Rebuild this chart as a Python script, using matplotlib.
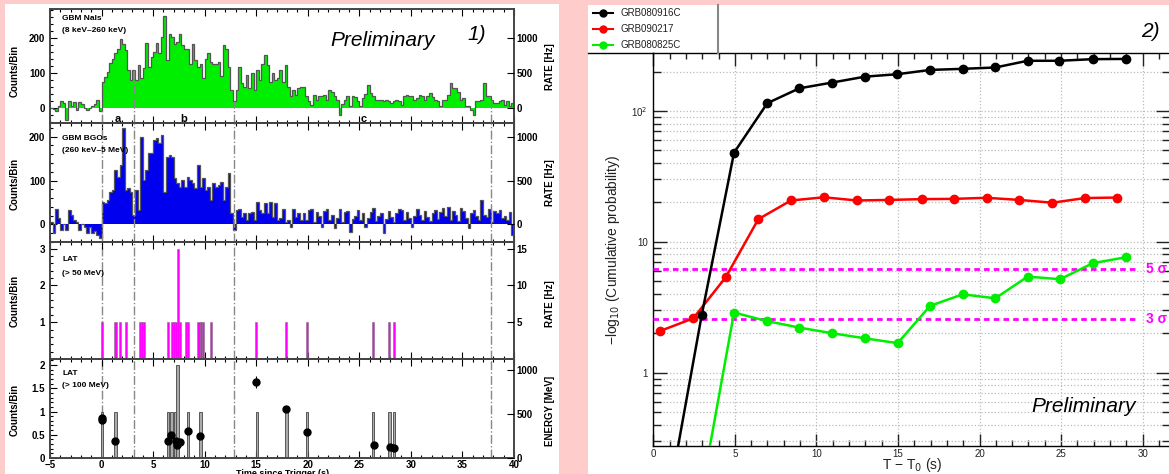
import numpy as np
import matplotlib
matplotlib.use('Agg')
import matplotlib.pyplot as plt
from matplotlib.patches import Rectangle
from matplotlib.lines import Line2D
from matplotlib.ticker import MultipleLocator, FixedLocator, FixedFormatter, NullFormatter, LogLocator

plt.rcParams['font.family'] = ['Liberation Sans', 'DejaVu Sans']

W, H = 1169, 474

# ------------------------------------------------------------------ data
gbm_t_start = -5.0
gbm_bin = 0.25

nai_pre = [0, -3, -8, 5, 20, 15, -33, 19, 5, 17, -5, 17, 10, 0, -5, 0, 5, 10, 24, -10]
nai_main = [73, 88, 104, 129, 141, 156, 170, 198, 184, 165,
            108, 80, 108, 80, 123, 85, 113, 186, 118, 146,
            160, 186, 156, 203, 264, 137, 212, 203, 184, 189,
            212, 179, 170, 170, 127, 184, 137, 118, 127, 85,
            141, 156, 132, 127, 127, 132, 90, 179, 170, 118,
            52, 19, 52, 118, 71, 61, 94, 57, 99, 52,
            108, 80, 127, 151, 123, 75, 99, 80, 85, 108,
            75, 123, 61, 33, 52, 38, 57, 59]
nai_tail = [61, 33, 20, 9, 38, 24, 33, 33, 38, 24,
            52, 45, 33, 24, -19, 10, 24, 33, 5, 33,
            30, 19, 5, 28, 40, 66, 42, 33, 24, 24,
            24, 19, 24, 20, 14, 19, 24, 20, 9, 33,
            38, 33, 33, 24, 28, 38, 35, 24, 33, 42,
            30, 24, 19, 5, 24, 24, 38, 71, 57, 57,
            47, 24, 28, 5, 5, -5, -19, 19, 19, 24,
            71, 33, 33, 24, 14, 14, 19, 24, 9, 19,
            5, 14]

bgo_pre = [5, -20, 36, 14, -13, 0, -13, 33, 21, 10, 6, -13, 0, -5, -20, -5, -20, -15, -25, -32]
bgo_main = [52, 48, 56, 75, 78, 124, 109, 135, 219, 78,
            82, 75, 21, 78, 33, 198, 101, 124, 162, 162,
            193, 196, 185, 204, 75, 154, 158, 154, 105, 94,
            86, 101, 86, 109, 101, 94, 82, 135, 86, 105,
            78, 86, 56, 94, 86, 90, 97, 56, 86, 116,
            25, -13, 33, 36, 17, 25, 10, 25, 29, 10,
            52, 33, 25, 48, 25, 52, 17, 48, 10, 14,
            36, 6, 10, -5, 36, 17, 25, 10]
bgo_tail = [25, 10, 33, 36, 5, 28, 20, -5, 30, 35, 10, 22, -8, 15, 36, 5, 28, 30, -17, 12,
            20, 33, 10, 25, -5, 15, 28, 38, 8, 20, 25, -20, 12, 30, 18, 5, 25, 36, 33, 10,
            28, 15, -5, 20, 36, 22, 10, 30, 18, 8, 25, 33, 12, 28, 38, 20, 40, 10, 30, 22,
            8, 38, 30, 15, -8, 25, 33, 20, 10, 56, 22, 18, 36, 5, 30, 25, 33, 15, 20, 10, 28, -24]

lat50_t = [-0.1, 1.25, 1.65, 2.3, 3.65, 3.85, 4.05, 6.3, 6.7, 6.9, 7.1, 7.3, 7.5,
           8.1, 8.3, 9.3, 9.5, 9.7, 10.5, 14.9, 17.8, 19.8, 26.2, 27.8, 28.25]
lat50_n = [1, 1, 1, 1, 1, 1, 1, 1, 1, 1, 1, 3, 1, 1, 1, 1, 1, 1, 1, 1, 1, 1, 1, 1, 1]

lat100_t = [-0.1, 1.25, 6.3, 6.65, 7.05, 7.25, 8.25, 9.45, 14.95, 17.8, 19.8, 26.2, 27.8, 28.25]
lat100_n = [1, 1, 1, 1, 1, 2, 1, 1, 1, 1, 1, 1, 1, 1]

evt_t = [0.0, 0.05, 1.35, 6.43, 6.75, 7.24, 7.3, 7.56, 8.37, 9.54, 15.0, 17.86, 19.94, 26.4, 27.97, 28.4]
evt_E = [453, 430, 188, 199, 264, 199, 151, 177, 310, 252, 868, 559, 301, 151, 125, 117]
evt_Eerr = [15, 15, 10, 10, 12, 10, 10, 10, 12, 12, 70, 25, 15, 10, 10, 10]

interval_lines = [0.0, 3.1, 12.8, 37.8]
interval_labels = ['a', 'b', 'c']
interval_label_t = [1.6, 8.0, 25.4]

grb1_x = [1, 2.97, 4.95, 6.99, 8.95, 10.97, 12.98, 14.96, 16.97, 18.97, 20.97, 22.95, 24.9, 26.94, 28.96]
grb1_y = [0.12, 2.76, 48, 114.7, 149, 165, 183, 191, 206, 210, 215, 242, 242, 249, 250]
grb2_x = [0.41, 2.45, 4.44, 6.44, 8.44, 10.47, 12.47, 14.47, 16.46, 18.46, 20.44, 22.44, 24.47, 26.46, 28.46]
grb2_y = [2.08, 2.6, 5.36, 14.9, 20.7, 21.9, 20.7, 20.9, 21.2, 21.3, 21.7, 20.9, 19.9, 21.6, 21.8]
grb3_x = [3.0, 4.95, 6.95, 8.95, 10.97, 12.98, 14.98, 16.97, 18.97, 20.97, 22.95, 24.94, 26.94, 28.96]
grb3_y = [0.13, 2.88, 2.48, 2.21, 2.0, 1.83, 1.68, 3.24, 3.97, 3.7, 5.42, 5.18, 6.86, 7.62]
grb_names = ['GRB080916C', 'GRB090217', 'GRB080825C']
sigma_levels = [6.24, 2.56]
sigma_labels = ['5 σ', '3 σ']

# ------------------------------------------------------------------ helpers
fig = plt.figure(figsize=(W / 100, H / 100), dpi=100)
fig.patch.set_facecolor('#ffcccc')


def px_axes(x0, y0, x1, y1, **kw):
    return fig.add_axes([x0 / W, 1 - y1 / H, (x1 - x0) / W, (y1 - y0) / H], **kw)


def fx(x):
    return x / W


def fy(y):
    return 1 - y / H


fig.patches.append(Rectangle((fx(5), fy(474)), (559 - 5) / W, (474 - 4) / H,
                             transform=fig.transFigure, facecolor='white', edgecolor='none', zorder=-10))
fig.patches.append(Rectangle((fx(588), fy(474)), (1169 - 588) / W, (474 - 5) / H,
                             transform=fig.transFigure, facecolor='white', edgecolor='none', zorder=-10))

# ------------------------------------------------------------------ left panels
nai = np.array(nai_pre + nai_main + nai_tail, dtype=float)
bgo = np.array(bgo_pre + bgo_main + bgo_tail, dtype=float)
edges = gbm_t_start + gbm_bin * np.arange(len(nai) + 1)

XL, XR = 50, 514
panels = [(9, 123), (123, 242), (242, 359), (359, 458)]
spine_c = '#444444'


def style_left(ax, show_x):
    ax.set_xlim(-5, 40)
    ax.xaxis.set_major_locator(MultipleLocator(5))
    ax.xaxis.set_minor_locator(MultipleLocator(1))
    ax.tick_params(which='both', direction='in', top=True, right=False, colors='black',
                   labelsize=7, width=0.8)
    ax.tick_params(which='major', length=5)
    ax.tick_params(which='minor', length=2.5)
    ax.tick_params(axis='x', pad=1.5)
    for s in ax.spines.values():
        s.set_color(spine_c)
        s.set_linewidth(1.4)
    for lab in ax.get_yticklabels():
        lab.set_fontweight('bold')
    if not show_x:
        ax.set_xticklabels([])
    else:
        ax.set_xticks([-5, 0, 5, 10, 15, 20, 25, 30, 35, 40])
        ax.set_xticklabels(['−5', '0', '5', '10', '15', '20', '25', '30', '35', '40'], fontweight='bold')
    ax.set_facecolor('none')


def twin_right(ax, factor, ticks):
    a2 = ax.twinx()
    lo, hi = ax.get_ylim()
    a2.set_ylim(lo * factor, hi * factor)
    a2.yaxis.set_major_locator(FixedLocator(ticks))
    a2.tick_params(which='both', direction='in', labelsize=7, length=5, width=0.8, pad=2)
    for lab in a2.get_yticklabels():
        lab.set_fontweight('bold')
    for s in a2.spines.values():
        s.set_visible(False)
    return a2


def counts_label(y):
    fig.text(fx(15), fy(y), 'Counts/Bin', rotation=90, ha='center', va='center', fontsize=7, fontweight='bold')


def rate_label(y, text='RATE [Hz]'):
    fig.text(fx(550), fy(y), text, rotation=90, ha='center', va='center', fontsize=7, fontweight='bold')


# Panel 1: NaI
ax1 = px_axes(XL, panels[0][0], XR, panels[0][1])
ax1.stairs(nai, edges, baseline=0, fill=True, color='#00ee00', zorder=1)
ax1.stairs(nai, edges, baseline=None, color='#555555', lw=0.9, zorder=2)
ax1.set_ylim(-43, 283)
ax1.yaxis.set_major_locator(FixedLocator([0, 100, 200]))
ax1.yaxis.set_minor_locator(MultipleLocator(20))
style_left(ax1, False)
for t in interval_lines:
    idx = min(int((t - 0.01 - gbm_t_start) / gbm_bin), len(nai) - 1)
    ax1.vlines(t, -43, max(nai[idx], 0), colors='#888888', linestyles='-.', lw=1, zorder=3)
for lab, t in zip(interval_labels, interval_label_t):
    ax1.text(t, -31, lab, ha='center', va='center', fontsize=8, fontweight='bold')
ax1.text(-3.8, 255, 'GBM NaIs', fontsize=6, fontweight='bold', va='center')
ax1.text(-3.8, 222, '(8 keV–260 keV)', fontsize=6, fontweight='bold', va='center')
twin_right(ax1, 5.0, [0, 500, 1000])
counts_label(71)
rate_label(67)

# Panel 2: BGO
ax2 = px_axes(XL, panels[1][0], XR, panels[1][1])
ax2.stairs(bgo, edges, baseline=0, fill=True, color='#0000ee', zorder=1)
ax2.stairs(bgo, edges, baseline=None, color='#555555', lw=0.9, zorder=2)
ax2.set_ylim(-40, 231)
ax2.yaxis.set_major_locator(FixedLocator([0, 100, 200]))
ax2.yaxis.set_minor_locator(MultipleLocator(20))
style_left(ax2, False)
for t in interval_lines:
    ax2.axvline(t, color='#888888', ls='-.', lw=1, zorder=3)
ax2.text(-3.8, 196, 'GBM BGOs', fontsize=6, fontweight='bold', va='center')
ax2.text(-3.8, 169, '(260 keV–5 MeV)', fontsize=6, fontweight='bold', va='center')
twin_right(ax2, 5.0, [0, 500, 1000])
counts_label(184)
rate_label(183)

# Panel 3: LAT > 50 MeV
ax3 = px_axes(XL, panels[2][0], XR, panels[2][1])
ax3.bar(lat50_t, lat50_n, width=0.2, align='edge', color='#ff00ff', edgecolor='#777777', lw=0.4, zorder=2)
ax3.set_ylim(0, 3.18)
ax3.yaxis.set_major_locator(FixedLocator([1, 2, 3]))
ax3.yaxis.set_minor_locator(MultipleLocator(0.2))
style_left(ax3, False)
for t in interval_lines:
    ax3.axvline(t, color='#888888', ls='-.', lw=1, zorder=1)
ax3.text(-3.8, 2.7, 'LAT', fontsize=6, fontweight='bold', va='center')
ax3.text(-3.8, 2.32, '(> 50 MeV)', fontsize=6, fontweight='bold', va='center')
twin_right(ax3, 5.0, [5, 10, 15])
counts_label(301)
rate_label(304)

# Panel 4: LAT > 100 MeV
ax4 = px_axes(XL, panels[3][0], XR, panels[3][1])
ax4.bar(lat100_t, lat100_n, width=0.25, align='edge', color='#aaaaaa', edgecolor='#444444', lw=0.6, zorder=2)
ax4.set_ylim(0, 2.13)
ax4.yaxis.set_major_locator(FixedLocator([0, 0.5, 1, 1.5, 2]))
ax4.yaxis.set_major_formatter(FixedFormatter(['0', '0.5', '1', '1.5', '2']))
ax4.yaxis.set_minor_locator(MultipleLocator(0.1))
style_left(ax4, True)
for t in interval_lines:
    ax4.axvline(t, color='#888888', ls='-.', lw=1, zorder=1)
ax4.text(-3.8, 1.81, 'LAT', fontsize=6, fontweight='bold', va='center')
ax4.text(-3.8, 1.55, '(> 100 MeV)', fontsize=6, fontweight='bold', va='center')
a4r = twin_right(ax4, 529.0, [0, 500, 1000])
a4r.errorbar(evt_t, evt_E, yerr=evt_Eerr, fmt='o', color='black', ms=5, elinewidth=0.8, capsize=0, zorder=4)
counts_label(410)
rate_label(411, 'ENERGY [MeV]')
fig.text(fx(283), fy(469), 'Time since Trigger (s)', ha='center', va='top', fontsize=6.5, fontweight='bold')

fig.text(fx(330), fy(46), 'Preliminary', fontsize=15, style='italic', ha='left', va='baseline')
fig.text(fx(467), fy(40), '1)', fontsize=15, style='italic', ha='left', va='baseline')

# ------------------------------------------------------------------ right panel
RX0, RX1, RY0, RY1 = 653.3, 1170, 53.3, 446
axr = px_axes(RX0, RY0, RX1, RY1)
axr.set_facecolor('none')
axr.set_yscale('log')
axr.set_xlim(0, (RX1 - RX0) / 16.31)
axr.set_ylim(0.275, 276)
axr.xaxis.set_major_locator(FixedLocator([0, 5, 10, 15, 20, 25, 30]))
axr.xaxis.set_minor_locator(MultipleLocator(1))
axr.yaxis.set_major_locator(FixedLocator([1, 10, 100]))
axr.yaxis.set_major_formatter(FixedFormatter(['1', '10', '10$^2$']))
axr.yaxis.set_minor_locator(LogLocator(base=10, subs=np.arange(2, 10)))
axr.yaxis.set_minor_formatter(NullFormatter())
axr.tick_params(which='both', direction='in', top=True, right=True, labelsize=7, colors='#222222', width=1)
axr.tick_params(axis='y', which='major', length=10, pad=4)
axr.tick_params(axis='y', which='minor', length=6)
axr.tick_params(axis='x', which='major', length=9, pad=2)
axr.tick_params(axis='x', which='minor', length=4.5)
for s in axr.spines.values():
    s.set_color('black')
    s.set_linewidth(1)
axr.grid(True, which='major', axis='x', ls=':', color='#bbbbbb', lw=0.9)
axr.grid(True, which='both', axis='y', ls=':', color='#bbbbbb', lw=0.9)

line_kw = dict(marker='o', ms=6, lw=1.8, clip_on=True)
axr.plot(grb1_x, grb1_y, color='black', **line_kw, zorder=5)
axr.plot(grb2_x, grb2_y, color='#ff0000', **line_kw, zorder=4)
axr.plot(grb3_x, grb3_y, color='#00ee00', **line_kw, zorder=4)
for lev, lab in zip(sigma_levels, sigma_labels):
    axr.hlines(lev, 0, 29.8, colors='#ff00ff', linestyles=(0, (2, 1.5)), lw=2, zorder=3)
    axr.text(30.2, lev, lab, color='#ff00ff', fontsize=10, fontweight='bold', va='center', ha='left')
axr.text(29.6, 0.5, 'Preliminary', fontsize=15, style='italic', ha='right', va='baseline')

fig.text(fx(613), fy(250), '−log$_{10}$ (Cumulative probability)', rotation=90, ha='center', va='center',
         fontsize=10, color='#222222')
fig.text(fx(912), fy(465), 'T − T$_0$ (s)', ha='center', va='center', fontsize=10, color='#222222')
fig.text(fx(1141), fy(37), '2)', fontsize=15, style='italic', ha='left', va='baseline')

# legend box
axl = px_axes(588, 5, 718, 53.3)
axl.set_xlim(588, 718)
axl.set_ylim(53.3, 5)
axl.axis('off')
cols = ['black', '#ff0000', '#00ee00']
rows = [13.3, 29.3, 45]
for c, yy, name in zip(cols, rows, grb_names):
    axl.plot([593, 613], [yy, yy], color=c, lw=1.5)
    axl.plot([603], [yy], 'o', color=c, ms=5)
    axl.text(620, yy, name, fontsize=7, va='center', ha='left', color='#222222')
fig.add_artist(Line2D([fx(718), fx(718)], [fy(5), fy(53.3)], color='#888888', lw=1.5))
fig.add_artist(Line2D([fx(588), fx(RX0)], [fy(53.3), fy(53.3)], color='black', lw=1))

fig.savefig('out.png', dpi=100, facecolor=fig.get_facecolor())
